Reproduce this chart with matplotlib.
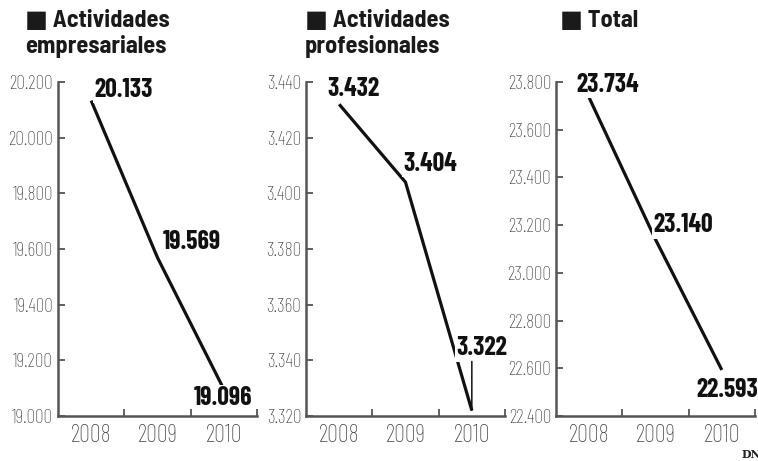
import matplotlib.pyplot as plt

plt.rcParams['font.family'] = ['Barlow Condensed', 'DejaVu Sans']

years = ['2008', '2009', '2010']
empresariales = [20133, 19569, 19096]
profesionales = [3432, 3404, 3322]
total = [23734, 23140, 22593]

titles = ['\u25a0 Actividades\nempresariales', '\u25a0 Actividades\nprofesionales', '\u25a0 Total']
series = [empresariales, profesionales, total]
ylims = [(19000, 20200), (3320, 3440), (22400, 23800)]
ysteps = [200, 20, 200]
# label offsets in pixels (dx to text centre, dy to baseline)
offsets = [
    [(32, 4), (34, 9), (-1, -16)],
    [(14, 8), (25, 11), (10, 55)],
    [(19, 6), (28, 7), (5, -27)],
]
lefts = [58, 306, 556]
title_x = [25, 305, 560]

fig = plt.figure(figsize=(7.58, 4.61), dpi=100)
grey = '#555555'

def fmt(v):
    return f'{v:,}'.replace(',', '.')

for i in range(3):
    ax = fig.add_axes([lefts[i] / 758, 45 / 461, 199 / 758, 334 / 461])
    vals = series[i]
    ax.plot(range(3), vals, color='#111111', lw=2.3, solid_capstyle='butt', zorder=2)
    ax.set_xlim(-0.5, 2.5)
    lo, hi = ylims[i]
    ax.set_ylim(lo, hi)
    yt = list(range(lo, hi + 1, ysteps[i]))
    ax.set_yticks(yt)
    ax.set_yticklabels([fmt(v) for v in yt], fontsize=14, color='#3a3a3a', fontweight='light')
    ax.set_xticks([0.5, 1.5, 2.5])
    ax.set_xticklabels([])
    ax.set_xticks(range(3), minor=True)
    ax.set_xticklabels(years, minor=True, fontsize=17.5, color='#444444', fontweight='light')
    ax.tick_params(axis='x', which='minor', length=0, pad=6)
    ax.tick_params(axis='x', which='major', direction='in', length=5, width=1.3, color=grey)
    ax.tick_params(axis='y', direction='in', length=5, width=1.3, color=grey, pad=3.5)
    for s in ['top', 'right']:
        ax.spines[s].set_visible(False)
    for s in ['left', 'bottom']:
        ax.spines[s].set_color(grey)
        ax.spines[s].set_linewidth(1.8)
    for j, v in enumerate(vals):
        dx, dy = offsets[i][j]
        ax.annotate(fmt(v), (j, v), xytext=(dx, dy), textcoords='offset pixels',
                    fontsize=18.5, fontweight='bold', color='#111111',
                    ha='center', va='baseline', zorder=3, annotation_clip=False,
                    bbox=dict(boxstyle='square,pad=0.05', fc='white', ec='none'))
    if i == 1:
        ax.annotate('', (2, vals[2]), xytext=(0, 49), textcoords='offset pixels',
                    arrowprops=dict(arrowstyle='-', color='#111111', lw=1.1,
                                    shrinkA=0, shrinkB=0))
    fig.text(title_x[i] / 758, 1 - 10 / 461, titles[i],
             family=['Barlow Semi Condensed', 'DejaVu Sans'],
             fontsize=17.5, fontweight='bold', color='#1a1a1a', va='top', ha='left',
             linespacing=1.15)

fig.text(742 / 758, 3 / 461, 'DN', family='DejaVu Serif', fontweight='bold',
         fontsize=8, color='#222222')

fig.savefig('out.png', dpi=100)
